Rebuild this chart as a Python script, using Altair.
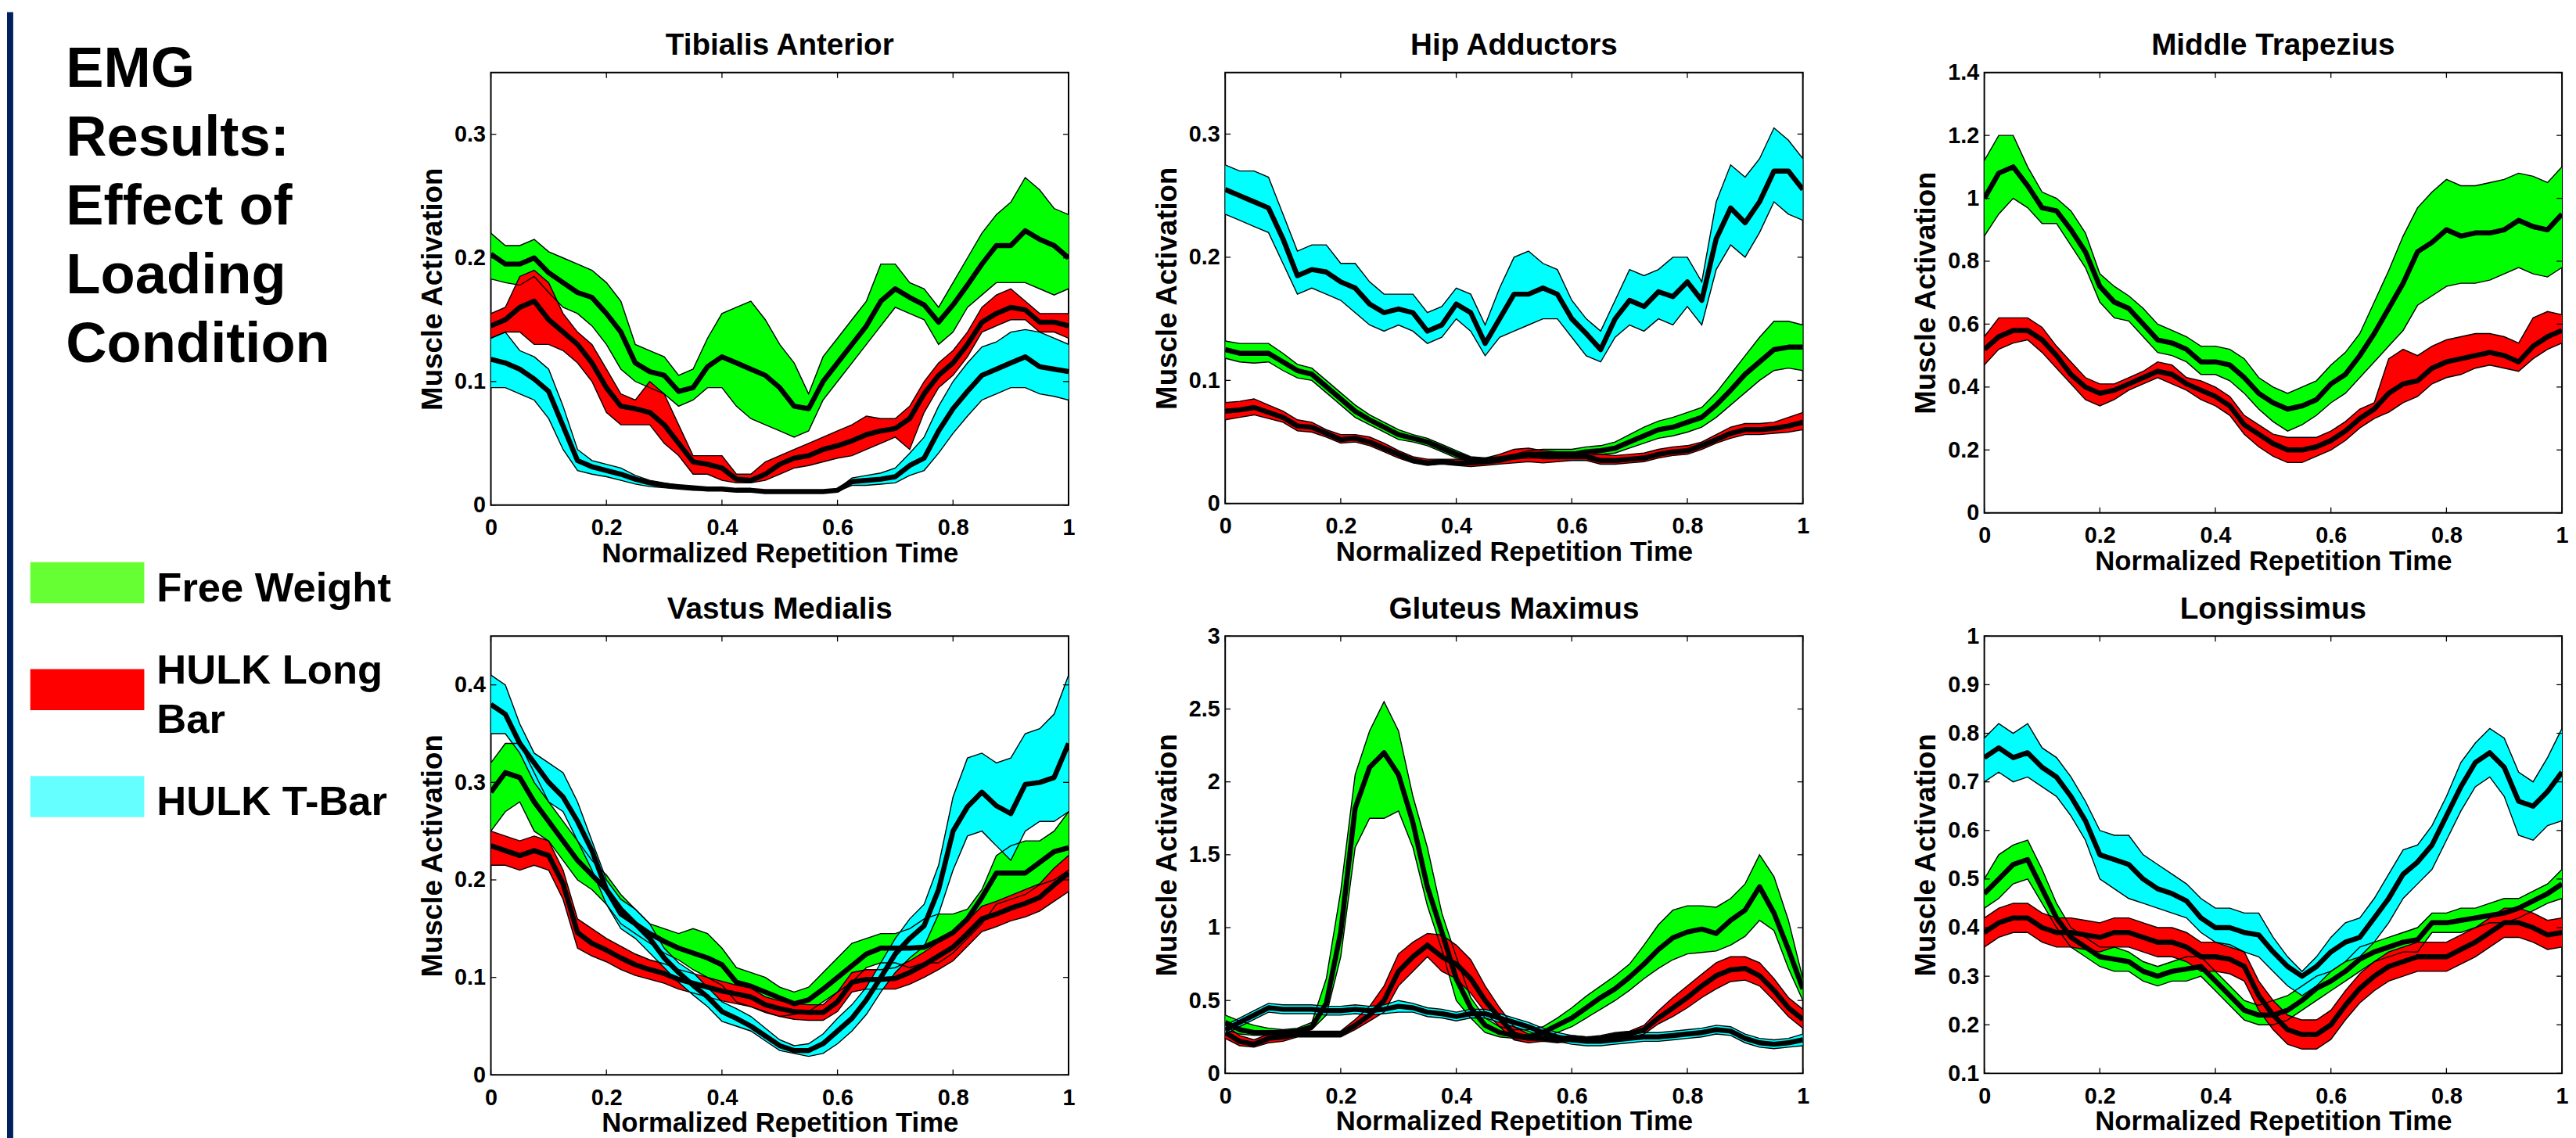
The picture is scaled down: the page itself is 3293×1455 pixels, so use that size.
import altair as alt
import pandas as pd

# ---------------- data ----------------
T = [0, 0.025, 0.05, 0.075, 0.1, 0.125, 0.15, 0.175, 0.2, 0.225,
     0.25, 0.275, 0.3, 0.325, 0.35, 0.375, 0.4, 0.425, 0.45, 0.475,
     0.5, 0.525, 0.55, 0.575, 0.6, 0.625, 0.65, 0.675, 0.7, 0.725,
     0.75, 0.775, 0.8, 0.825, 0.85, 0.875, 0.9, 0.925, 0.95, 0.975, 1]

CONDS = ["Free Weight", "HULK Long Bar", "HULK T-Bar"]
LEGEND_LABELS = ["Free Weight", "HULK Long\nBar", "HULK T-Bar"]
BAND_COLORS = ["#00FF00", "#FF0000", "#00FFFF"]
LEGEND_COLORS = ["#66FF33", "#FF0000", "#66FFFF"]
SIDE_TITLE = "EMG\nResults:\nEffect of\nLoading\nCondition"
X_TITLE = "Normalized Repetition Time"
Y_TITLE = "Muscle Activation"
XTICKS = [0, 0.2, 0.4, 0.6, 0.8, 1]

# Tibialis Anterior
TA_FW_mean = [.203,.195,.195,.200,.188,.180,.172,.168,.155,.140,.115,.108,.105,.092,.095,.112,.120,.115,.110,.105,.095,.080,.078,.100,.115,.130,.145,.165,.175,.168,.162,.148,.162,.178,.195,.210,.210,.222,.215,.210,.200]
TA_FW_hi = [.220,.210,.210,.215,.205,.200,.195,.190,.180,.165,.130,.125,.120,.105,.110,.135,.155,.160,.165,.150,.130,.115,.090,.120,.135,.150,.165,.195,.195,.180,.175,.160,.180,.200,.220,.235,.245,.265,.255,.240,.235]
TA_FW_lo = [.183,.180,.178,.185,.172,.160,.155,.145,.130,.110,.100,.095,.090,.080,.085,.095,.095,.080,.070,.065,.060,.055,.060,.085,.100,.115,.130,.145,.160,.155,.150,.130,.140,.160,.170,.180,.180,.180,.175,.170,.175]
TA_LB_mean = [.145,.150,.160,.165,.150,.140,.130,.115,.095,.080,.078,.075,.065,.050,.035,.033,.030,.021,.020,.025,.033,.038,.040,.045,.048,.052,.057,.060,.062,.070,.090,.105,.115,.130,.148,.155,.160,.158,.148,.148,.145]
TA_LB_hi = [.155,.160,.185,.190,.180,.155,.140,.130,.110,.090,.085,.100,.090,.065,.040,.040,.040,.025,.025,.035,.040,.045,.050,.055,.060,.065,.072,.070,.070,.080,.100,.115,.125,.140,.160,.170,.175,.165,.155,.155,.155]
TA_LB_lo = [.135,.140,.140,.130,.130,.125,.115,.100,.075,.065,.065,.065,.050,.040,.025,.025,.020,.018,.018,.020,.025,.030,.032,.035,.038,.040,.045,.050,.055,.045,.075,.095,.105,.120,.140,.145,.150,.150,.140,.140,.135]
TA_TB_mean = [.118,.115,.110,.102,.092,.064,.036,.031,.028,.025,.021,.018,.016,.015,.014,.013,.013,.012,.012,.011,.011,.011,.011,.011,.012,.019,.020,.021,.023,.032,.038,.060,.078,.092,.105,.110,.115,.120,.112,.110,.108]
TA_TB_hi = [.135,.140,.125,.120,.110,.080,.045,.036,.033,.030,.024,.020,.018,.016,.015,.014,.014,.013,.013,.012,.012,.012,.012,.012,.013,.022,.024,.026,.030,.042,.055,.080,.100,.115,.128,.132,.140,.142,.140,.135,.130]
TA_TB_lo = [.095,.095,.090,.085,.070,.045,.028,.025,.023,.020,.017,.015,.014,.013,.012,.012,.012,.011,.011,.010,.010,.010,.010,.010,.011,.016,.016,.017,.018,.024,.028,.042,.058,.072,.085,.090,.095,.095,.090,.088,.085]

# Hip Adductors
HA_FW_mean = [.125,.122,.122,.122,.115,.108,.105,.095,.085,.075,.068,.062,.056,.053,.050,.045,.040,.036,.035,.036,.038,.040,.040,.040,.040,.042,.043,.045,.050,.055,.060,.062,.066,.070,.080,.092,.105,.115,.125,.127,.127]
HA_FW_hi = [.132,.130,.130,.130,.122,.113,.110,.100,.090,.080,.072,.066,.060,.056,.053,.048,.043,.038,.037,.038,.040,.043,.044,.044,.044,.046,.047,.050,.056,.062,.067,.070,.074,.078,.090,.105,.120,.135,.148,.148,.145]
HA_FW_lo = [.118,.115,.114,.115,.108,.102,.100,.090,.080,.070,.064,.058,.052,.050,.047,.042,.037,.034,.033,.034,.036,.037,.037,.037,.037,.039,.040,.041,.045,.049,.053,.055,.058,.062,.070,.080,.090,.100,.108,.110,.108]
HA_LB_mean = [.075,.076,.078,.074,.070,.063,.062,.057,.052,.053,.050,.045,.040,.035,.033,.034,.033,.033,.034,.035,.038,.040,.038,.038,.038,.038,.035,.035,.036,.037,.040,.042,.043,.047,.052,.057,.060,.060,.061,.063,.066]
HA_LB_hi = [.082,.083,.085,.080,.075,.068,.066,.060,.056,.056,.054,.049,.043,.038,.036,.036,.036,.036,.037,.040,.044,.045,.043,.042,.042,.042,.040,.039,.040,.041,.044,.046,.047,.050,.056,.062,.065,.065,.066,.070,.074]
HA_LB_lo = [.068,.070,.072,.069,.066,.059,.058,.054,.049,.050,.047,.042,.037,.033,.031,.032,.031,.030,.031,.032,.033,.034,.033,.034,.035,.035,.032,.032,.033,.034,.037,.039,.040,.044,.049,.053,.056,.056,.057,.058,.060]
HA_TB_mean = [.255,.250,.245,.240,.215,.185,.190,.188,.180,.175,.162,.155,.158,.155,.140,.145,.162,.155,.130,.150,.170,.170,.175,.170,.150,.138,.125,.150,.165,.160,.172,.168,.180,.165,.215,.240,.228,.245,.270,.270,.255]
HA_TB_hi = [.275,.270,.270,.265,.235,.205,.210,.210,.195,.195,.180,.170,.170,.170,.155,.160,.175,.170,.145,.175,.200,.205,.195,.190,.165,.150,.140,.165,.190,.185,.190,.200,.200,.180,.245,.275,.265,.280,.305,.295,.280]
HA_TB_lo = [.235,.230,.225,.220,.195,.170,.175,.170,.165,.155,.145,.140,.145,.140,.130,.135,.150,.140,.120,.135,.140,.145,.150,.150,.135,.120,.115,.135,.145,.140,.150,.145,.160,.145,.190,.210,.200,.220,.245,.235,.230]

# Middle Trapezius
MT_FW_mean = [1.00,1.08,1.10,1.04,.97,.96,.90,.83,.72,.67,.65,.60,.55,.54,.52,.48,.48,.47,.43,.38,.35,.33,.34,.36,.41,.44,.50,.57,.65,.73,.83,.86,.90,.88,.89,.89,.90,.93,.91,.90,.95]
MT_FW_hi = [1.12,1.20,1.20,1.10,1.02,1.00,.96,.89,.76,.72,.69,.65,.60,.58,.56,.53,.53,.52,.49,.43,.40,.38,.40,.42,.47,.51,.57,.67,.77,.88,.97,1.02,1.06,1.04,1.04,1.05,1.06,1.08,1.07,1.05,1.10]
MT_FW_lo = [.88,.95,1.00,.97,.92,.92,.85,.78,.67,.62,.61,.56,.51,.50,.48,.44,.44,.42,.38,.33,.29,.26,.28,.31,.35,.38,.43,.48,.53,.58,.66,.69,.72,.73,.73,.74,.76,.78,.76,.75,.78]
MT_LB_mean = [.52,.56,.58,.58,.55,.50,.44,.40,.38,.39,.41,.43,.45,.44,.41,.39,.37,.34,.28,.25,.22,.20,.20,.21,.23,.26,.30,.33,.38,.41,.42,.46,.48,.49,.50,.51,.50,.48,.53,.56,.58]
MT_LB_hi = [.56,.62,.62,.62,.59,.53,.48,.43,.41,.41,.43,.45,.48,.47,.43,.42,.40,.37,.31,.28,.25,.24,.24,.24,.26,.29,.33,.35,.49,.52,.50,.53,.55,.56,.57,.57,.56,.54,.62,.64,.63]
MT_LB_lo = [.47,.52,.54,.55,.51,.46,.41,.36,.34,.36,.39,.41,.43,.41,.39,.36,.34,.31,.25,.21,.18,.16,.16,.18,.20,.23,.27,.30,.32,.35,.37,.41,.43,.44,.46,.47,.46,.45,.49,.52,.54]

# Vastus Medialis
VM_FW_mean = [.29,.31,.305,.28,.26,.24,.22,.205,.19,.17,.155,.145,.137,.13,.125,.12,.113,.095,.091,.085,.079,.073,.077,.088,.10,.112,.124,.13,.13,.13,.131,.138,.146,.16,.182,.207,.207,.207,.218,.229,.233]
VM_FW_hi = [.32,.34,.34,.31,.28,.26,.24,.22,.205,.185,.17,.155,.15,.145,.15,.145,.13,.11,.105,.10,.09,.085,.09,.105,.12,.135,.14,.145,.145,.15,.16,.165,.165,.17,.19,.225,.235,.24,.24,.25,.27]
VM_FW_lo = [.25,.27,.28,.25,.24,.22,.20,.19,.175,.155,.145,.135,.125,.118,.108,.10,.092,.075,.07,.065,.06,.062,.065,.075,.085,.095,.11,.115,.115,.11,.115,.115,.125,.14,.155,.175,.18,.185,.195,.2,.21]
VM_LB_mean = [.235,.23,.225,.23,.225,.196,.146,.135,.128,.12,.113,.108,.104,.098,.094,.09,.086,.083,.08,.072,.068,.065,.064,.064,.075,.095,.098,.098,.099,.105,.113,.122,.131,.145,.16,.165,.171,.176,.182,.195,.207]
VM_LB_hi = [.25,.245,.24,.245,.24,.21,.16,.15,.14,.132,.124,.118,.114,.108,.104,.10,.096,.092,.089,.08,.076,.073,.072,.072,.085,.105,.108,.108,.11,.117,.126,.136,.145,.158,.173,.178,.184,.19,.196,.212,.225]
VM_LB_lo = [.215,.215,.21,.215,.21,.18,.13,.122,.116,.108,.102,.098,.094,.088,.084,.08,.076,.073,.07,.064,.06,.057,.056,.056,.065,.085,.088,.088,.088,.093,.1,.108,.117,.132,.147,.152,.158,.162,.168,.178,.188]
VM_TB_mean = [.38,.37,.34,.32,.30,.285,.26,.23,.19,.165,.155,.14,.12,.105,.092,.08,.065,.058,.05,.04,.03,.025,.025,.032,.045,.058,.077,.10,.124,.14,.153,.19,.25,.275,.29,.276,.268,.298,.30,.305,.34]
VM_TB_hi = [.41,.40,.36,.33,.32,.31,.28,.24,.20,.18,.17,.155,.13,.115,.105,.09,.075,.068,.06,.048,.036,.03,.032,.042,.058,.072,.09,.115,.14,.16,.175,.215,.285,.325,.33,.32,.325,.35,.355,.37,.41]
VM_TB_lo = [.35,.35,.33,.30,.28,.27,.24,.21,.175,.15,.14,.125,.11,.095,.082,.07,.055,.05,.045,.035,.025,.022,.019,.022,.032,.045,.062,.085,.105,.12,.132,.165,.21,.245,.25,.235,.22,.25,.26,.26,.27]

# Gluteus Maximus
GM_FW_mean = [.35,.30,.28,.28,.28,.29,.32,.48,.97,1.82,2.10,2.20,2.05,1.72,1.28,.97,.65,.45,.33,.28,.26,.25,.28,.33,.38,.45,.52,.58,.66,.75,.85,.93,.97,.99,.96,1.05,1.12,1.28,1.10,.85,.58]
GM_FW_hi = [.40,.36,.33,.31,.30,.31,.35,.65,1.25,2.05,2.35,2.55,2.35,1.90,1.55,1.10,.80,.52,.38,.32,.30,.30,.32,.38,.45,.53,.60,.67,.75,.88,1.02,1.12,1.15,1.15,1.14,1.20,1.30,1.50,1.35,1.05,.65]
GM_FW_lo = [.30,.27,.26,.26,.26,.27,.30,.40,.80,1.55,1.75,1.75,1.80,1.55,1.15,.85,.50,.38,.28,.25,.24,.23,.25,.28,.32,.38,.44,.50,.57,.65,.72,.78,.82,.83,.84,.88,.94,1.05,.98,.72,.50]
GM_LB_mean = [.28,.22,.20,.24,.25,.27,.27,.27,.27,.33,.40,.50,.70,.80,.88,.80,.75,.65,.50,.38,.27,.24,.24,.23,.24,.23,.24,.26,.27,.30,.38,.45,.52,.60,.67,.71,.72,.67,.57,.45,.37]
GM_LB_hi = [.33,.26,.23,.27,.28,.29,.29,.29,.29,.37,.46,.60,.82,.90,.96,.95,.88,.78,.60,.45,.32,.27,.26,.25,.26,.25,.26,.28,.29,.33,.43,.52,.60,.68,.76,.80,.80,.76,.65,.52,.44]
GM_LB_lo = [.24,.19,.18,.21,.22,.25,.25,.25,.25,.30,.36,.42,.60,.70,.80,.70,.65,.55,.42,.32,.23,.21,.22,.21,.22,.21,.22,.24,.25,.27,.34,.39,.45,.52,.58,.63,.64,.60,.50,.39,.31]
GM_TB_mean = [.30,.35,.40,.45,.44,.44,.44,.43,.43,.44,.43,.44,.46,.45,.42,.41,.39,.41,.41,.38,.35,.32,.28,.25,.23,.22,.22,.23,.24,.25,.25,.26,.27,.28,.30,.29,.24,.21,.20,.21,.23]
GM_TB_hi = [.33,.38,.43,.48,.47,.47,.47,.46,.46,.47,.46,.47,.50,.48,.45,.44,.42,.44,.44,.41,.38,.35,.31,.28,.26,.25,.25,.26,.27,.28,.28,.29,.30,.31,.33,.32,.27,.24,.23,.24,.27]
GM_TB_lo = [.27,.32,.37,.42,.41,.41,.41,.40,.40,.41,.40,.41,.42,.42,.39,.38,.36,.38,.38,.35,.32,.29,.25,.22,.20,.19,.19,.20,.21,.22,.22,.23,.24,.25,.27,.26,.21,.18,.17,.18,.19]

# Longissimus
LG_FW_mean = [.47,.50,.53,.54,.48,.42,.38,.36,.34,.335,.33,.31,.30,.31,.315,.32,.29,.26,.23,.22,.22,.23,.25,.275,.29,.31,.335,.35,.36,.37,.375,.41,.41,.415,.42,.425,.43,.44,.455,.47,.49]
LG_FW_hi = [.50,.55,.57,.58,.52,.45,.40,.38,.36,.36,.35,.33,.32,.33,.34,.34,.31,.28,.25,.24,.25,.26,.28,.30,.31,.33,.36,.37,.38,.39,.40,.43,.43,.44,.44,.45,.46,.46,.475,.49,.52]
LG_FW_lo = [.44,.46,.49,.50,.45,.40,.36,.34,.32,.31,.31,.29,.28,.29,.29,.30,.27,.24,.21,.20,.20,.21,.23,.25,.27,.29,.31,.33,.34,.35,.35,.39,.39,.39,.40,.41,.41,.42,.435,.45,.46]
LG_LB_mean = [.39,.41,.42,.42,.40,.39,.39,.385,.38,.39,.39,.38,.37,.37,.36,.34,.34,.335,.32,.26,.22,.19,.18,.18,.20,.24,.275,.30,.32,.33,.34,.34,.34,.355,.37,.39,.41,.41,.40,.385,.39]
LG_LB_hi = [.42,.44,.45,.45,.43,.42,.42,.415,.41,.42,.42,.41,.40,.40,.39,.37,.37,.365,.35,.29,.25,.22,.21,.21,.23,.27,.305,.33,.35,.36,.37,.37,.37,.385,.40,.42,.44,.44,.43,.415,.42]
LG_LB_lo = [.36,.38,.39,.39,.37,.36,.36,.355,.35,.36,.36,.35,.34,.34,.33,.31,.31,.305,.29,.23,.19,.16,.15,.15,.17,.21,.245,.27,.29,.30,.31,.31,.31,.325,.34,.36,.38,.38,.37,.355,.36]
LG_TB_mean = [.75,.77,.75,.76,.73,.71,.67,.62,.55,.54,.53,.50,.48,.47,.455,.42,.40,.40,.39,.385,.35,.32,.30,.32,.35,.37,.38,.42,.46,.51,.535,.57,.63,.69,.74,.76,.73,.66,.65,.68,.72]
LG_TB_hi = [.79,.82,.80,.82,.77,.75,.71,.66,.60,.59,.59,.55,.53,.51,.49,.46,.44,.44,.43,.43,.38,.34,.31,.34,.38,.41,.42,.46,.51,.56,.57,.61,.67,.74,.78,.81,.79,.72,.70,.75,.81]
LG_TB_lo = [.70,.72,.70,.71,.69,.67,.63,.58,.50,.48,.46,.45,.44,.43,.42,.39,.37,.36,.35,.34,.31,.28,.26,.28,.31,.33,.34,.37,.41,.46,.49,.52,.58,.64,.69,.71,.67,.59,.58,.61,.62]

# ---------------- styling / layout ----------------
FONT = "Liberation Sans"
TICK_LEN = 7


def build_panel(title, series, ydom, yticks, w, h):
    rows = []
    for cond, (lo, mean, hi) in series:
        for t, a, b, c in zip(T, lo, mean, hi):
            rows.append({"t": t, "cond": cond, "lo": a, "mean": b, "hi": c})
    df = pd.DataFrame(rows)
    xs = alt.Scale(domain=[0, 1], nice=False, zero=False)
    ys = alt.Scale(domain=ydom, nice=False, zero=False)
    common = dict(domain=False, ticks=False, tickSize=0, grid=False,
                  labelFontSize=29, labelFontWeight="bold", labelColor="black",
                  titleFontWeight="bold", titleColor="black",
                  labelFlush=False, labelOverlap=False, format="~g")
    xax = alt.Axis(values=XTICKS, title=X_TITLE, labelPadding=15, titlePadding=1,
                   titleFontSize=35, **common)
    yax = alt.Axis(values=yticks, title=Y_TITLE, labelPadding=7, titlePadding=8,
                   titleFontSize=37, **common)
    X = alt.X("t:Q", scale=xs, axis=xax)
    color = alt.Color("cond:N", scale=alt.Scale(domain=CONDS, range=BAND_COLORS), legend=None)
    base = alt.Chart(df)
    layers = []
    for cond, _ in series:
        layers.append(
            base.transform_filter(alt.datum.cond == cond)
            .mark_area(opacity=1, clip=True)
            .encode(x=X, y=alt.Y("lo:Q", scale=ys, axis=yax), y2="hi:Q", color=color)
        )
    for fld in ["lo", "hi"]:
        layers.append(
            base.mark_line(color="black", strokeWidth=1.4, clip=True)
            .encode(x=X, y=alt.Y(f"{fld}:Q", scale=ys, axis=yax), detail="cond:N")
        )
    layers.append(
        base.mark_line(color="black", strokeWidth=6.5, strokeJoin="round", clip=True)
        .encode(x=X, y=alt.Y("mean:Q", scale=ys, axis=yax), detail="cond:N")
    )
    ytk = alt.Chart(pd.DataFrame({"v": yticks}))
    xtk = alt.Chart(pd.DataFrame({"v": XTICKS}))
    Yv = alt.Y("v:Q", scale=ys, axis=yax)
    Xv = alt.X("v:Q", scale=xs, axis=xax)
    layers += [
        ytk.mark_rule(color="black", strokeWidth=1.3).encode(y=Yv, x=alt.value(0), x2=alt.value(TICK_LEN)),
        ytk.mark_rule(color="black", strokeWidth=1.3).encode(y=Yv, x=alt.value(w - TICK_LEN), x2=alt.value(w)),
        xtk.mark_rule(color="black", strokeWidth=1.3).encode(x=Xv, y=alt.value(h - TICK_LEN), y2=alt.value(h)),
        xtk.mark_rule(color="black", strokeWidth=1.3).encode(x=Xv, y=alt.value(0), y2=alt.value(TICK_LEN)),
    ]
    # panel title as a text mark placed just above the frame
    layers.append(
        alt.Chart(pd.DataFrame({"ttl": [title]})).mark_text(
            fontSize=39, fontWeight="bold", baseline="alphabetic", align="center", color="black"
        ).encode(text="ttl:N", x=alt.value(w / 2), y=alt.value(-23))
    )
    return alt.layer(*layers).properties(
        width=w, height=h,
        view=alt.ViewBackground(stroke="black", strokeWidth=2),
    )


FW, LB, TB = CONDS
ta = build_panel("Tibialis Anterior",
                 [(FW, (TA_FW_lo, TA_FW_mean, TA_FW_hi)), (LB, (TA_LB_lo, TA_LB_mean, TA_LB_hi)),
                  (TB, (TA_TB_lo, TA_TB_mean, TA_TB_hi))],
                 [0, 0.35], [0, 0.1, 0.2, 0.3], 745, 558)
ha = build_panel("Hip Adductors",
                 [(FW, (HA_FW_lo, HA_FW_mean, HA_FW_hi)), (LB, (HA_LB_lo, HA_LB_mean, HA_LB_hi)),
                  (TB, (HA_TB_lo, HA_TB_mean, HA_TB_hi))],
                 [0, 0.35], [0, 0.1, 0.2, 0.3], 745, 556)
mt = build_panel("Middle Trapezius",
                 [(FW, (MT_FW_lo, MT_FW_mean, MT_FW_hi)), (LB, (MT_LB_lo, MT_LB_mean, MT_LB_hi))],
                 [0, 1.4], [0, 0.2, 0.4, 0.6, 0.8, 1, 1.2, 1.4], 745, 568)
vm = build_panel("Vastus Medialis",
                 [(FW, (VM_FW_lo, VM_FW_mean, VM_FW_hi)), (LB, (VM_LB_lo, VM_LB_mean, VM_LB_hi)),
                  (TB, (VM_TB_lo, VM_TB_mean, VM_TB_hi))],
                 [0, 0.45], [0, 0.1, 0.2, 0.3, 0.4], 745, 566)
gm = build_panel("Gluteus Maximus",
                 [(FW, (GM_FW_lo, GM_FW_mean, GM_FW_hi)), (LB, (GM_LB_lo, GM_LB_mean, GM_LB_hi)),
                  (TB, (GM_TB_lo, GM_TB_mean, GM_TB_hi))],
                 [0, 3], [0, 0.5, 1, 1.5, 2, 2.5, 3], 745, 564)
lg = build_panel("Longissimus",
                 [(FW, (LG_FW_lo, LG_FW_mean, LG_FW_hi)), (LB, (LG_LB_lo, LG_LB_mean, LG_LB_hi)),
                  (TB, (LG_TB_lo, LG_TB_mean, LG_TB_hi))],
                 [0.1, 1], [0.1, 0.2, 0.3, 0.4, 0.5, 0.6, 0.7, 0.8, 0.9, 1], 745, 564)

# left column, top: the heading text
left_top = alt.Chart(pd.DataFrame({"txt": [SIDE_TITLE]})).mark_text(
    align="left", baseline="alphabetic", fontSize=73, fontWeight="bold",
    lineBreak="\n", lineHeight=89, color="black"
).encode(text="txt:N", x=alt.value(76), y=alt.value(18)).properties(width=624, height=568)

# left column, bottom: side stripe + legend
stripe = alt.Chart(pd.DataFrame({"a": [0]})).mark_rect(color="#002060").encode(
    x=alt.value(0), x2=alt.value(8), y=alt.value(-805), y2=alt.value(650))
leg_df = pd.DataFrame({"cond": CONDS, "label": LEGEND_LABELS})
leg_y = alt.Y("cond:N", axis=None,
              scale=alt.Scale(type="band", domain=CONDS, range=[-138, 276],
                              paddingInner=0.616, paddingOuter=0.308))
leg_rects = alt.Chart(leg_df).mark_rect().encode(
    x=alt.value(30), x2=alt.value(177), y=leg_y,
    fill=alt.Fill("cond:N", scale=alt.Scale(domain=CONDS, range=LEGEND_COLORS), legend=None))
leg_text_style = dict(align="left", baseline="middle", fontSize=53, fontWeight="bold",
                      lineBreak="\n", lineHeight=64, color="black")
leg_text_single = alt.Chart(leg_df).transform_filter(
    "indexof(datum.label, '\\n') < 0"
).mark_text(dy=8, **leg_text_style).encode(x=alt.value(193), y=leg_y, text="label:N")
leg_text_multi = alt.Chart(leg_df).transform_filter(
    "indexof(datum.label, '\\n') >= 0"
).mark_text(dy=-24, **leg_text_style).encode(x=alt.value(193), y=leg_y, text="label:N")
left_bottom = alt.layer(stripe, leg_rects, leg_text_single, leg_text_multi).properties(width=624, height=566)


def spacer(w):
    return alt.Chart(pd.DataFrame({"a": [0]})).mark_point(opacity=0).encode(
        x=alt.value(0), y=alt.value(0)).properties(width=w, height=10)


chart = alt.concat(
    left_top, ta, spacer(202), ha, spacer(234), mt,
    left_bottom, vm, spacer(202), gm, spacer(234), lg,
    columns=6, spacing={"row": 159, "column": 0}, bounds="flush", align="each",
).properties(padding=0).configure(font=FONT).configure_view(stroke="transparent")

chart.save("out.html", embed_options={"renderer": "svg", "actions": False})
